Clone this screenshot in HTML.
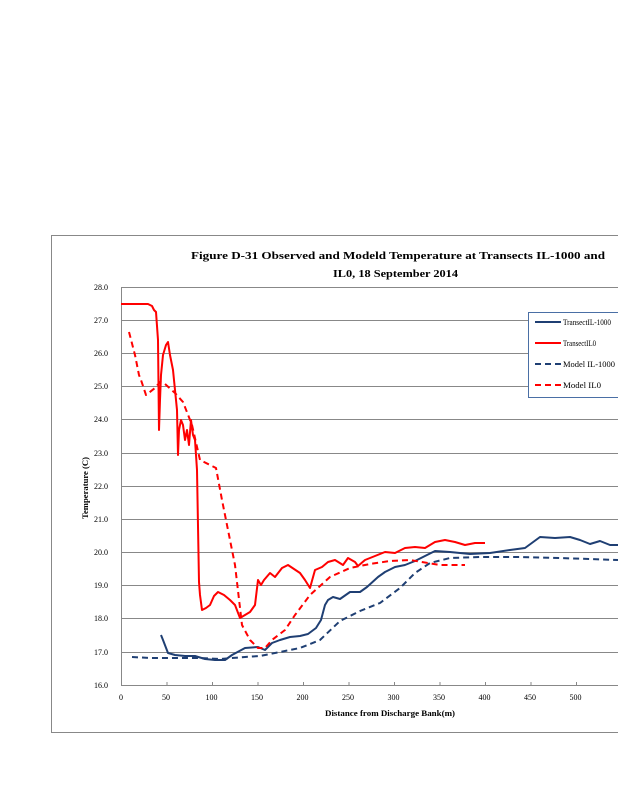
<!DOCTYPE html>
<html><head><meta charset="utf-8"><style>
body{margin:0;background:#fff;width:618px;height:800px;overflow:hidden}
svg{display:block}
text{font-family:"Liberation Serif",serif}
</style></head><body>
<svg width="618" height="800" viewBox="0 0 618 800">
<rect x="51.5" y="235.5" width="600" height="497" fill="#fff" stroke="#888" stroke-width="1"/>
<g font-size="11" font-weight="bold" fill="#000">
<text x="191" y="259" textLength="414" lengthAdjust="spacingAndGlyphs">Figure    D-31 Observed         and   Modeld       Temperature        at  Transects      IL-1000       and</text>
<text x="333" y="277" textLength="125" lengthAdjust="spacingAndGlyphs">IL0,  18   September         2014</text>
</g>
<g stroke="#888" stroke-width="1">
<line x1="121" y1="287.5" x2="618" y2="287.5"/>
<line x1="121" y1="320.5" x2="618" y2="320.5"/>
<line x1="121" y1="353.5" x2="618" y2="353.5"/>
<line x1="121" y1="386.5" x2="618" y2="386.5"/>
<line x1="121" y1="419.5" x2="618" y2="419.5"/>
<line x1="121" y1="453.5" x2="618" y2="453.5"/>
<line x1="121" y1="486.5" x2="618" y2="486.5"/>
<line x1="121" y1="519.5" x2="618" y2="519.5"/>
<line x1="121" y1="552.5" x2="618" y2="552.5"/>
<line x1="121" y1="585.5" x2="618" y2="585.5"/>
<line x1="121" y1="618.5" x2="618" y2="618.5"/>
<line x1="121" y1="652.5" x2="618" y2="652.5"/>
<line x1="121" y1="685.5" x2="618" y2="685.5"/>
<line x1="121.5" y1="287" x2="121.5" y2="686"/>
<path d="M167 682v3M212.5 682v3M258 682v3M303.5 682v3M349 682v3M394.5 682v3M440 682v3M485.5 682v3M531 682v3M576.5 682v3"/>
</g>
<g font-size="8" fill="#000" text-anchor="end">
<text x="108" y="290">28.0</text><text x="108" y="323">27.0</text><text x="108" y="356">26.0</text>
<text x="108" y="389">25.0</text><text x="108" y="422">24.0</text><text x="108" y="456">23.0</text>
<text x="108" y="489">22.0</text><text x="108" y="522">21.0</text><text x="108" y="555">20.0</text>
<text x="108" y="588">19.0</text><text x="108" y="621">18.0</text><text x="108" y="655">17.0</text>
<text x="108" y="688">16.0</text>
</g>
<g font-size="8" fill="#000" text-anchor="middle">
<text x="121" y="700">0</text><text x="166" y="700">50</text><text x="211.5" y="700">100</text>
<text x="257" y="700">150</text><text x="302.5" y="700">200</text><text x="348" y="700">250</text>
<text x="393.5" y="700">300</text><text x="439" y="700">350</text><text x="484.5" y="700">400</text>
<text x="530" y="700">450</text><text x="575.5" y="700">500</text>
</g>
<text x="325" y="716" font-size="8" font-weight="bold" textLength="130" lengthAdjust="spacingAndGlyphs">Distance     from    Discharge       Bank(m)</text>
<text transform="translate(88,488) rotate(-90)" font-size="8" font-weight="bold" text-anchor="middle" textLength="62" lengthAdjust="spacingAndGlyphs">Temperature      (C)</text>
<g fill="none" stroke-width="2" stroke-linejoin="round">
<polyline stroke="#1f3f73" stroke-dasharray="6,4" points="132,657 150,658 175,658 200,658 220,659 245,657 260,656 280,652 300,648 320,640 340,621 360,611 380,603 400,588 415,573 430,563 450,558 480,557 520,557 560,558 618,560"/>
<polyline stroke="#1f3f73" points="161,635 163,640 168,653 175,655 185,656 195,656 205,659 215,660 225,660 232,655 245,648 258,647 265,650 272,643 280,640 290,637 300,636 308,634 316,628 321,620 325,605 328,600 333,597 340,599 350,592 360,592 367,587 378,577 385,572 395,567 405,565 415,561 425,556 435,551 450,552 470,554 490,553 510,550 525,548 540,537 555,538 570,537 580,540 590,544 600,541 610,545 618,545"/>
<polyline stroke="#f00" stroke-dasharray="6,4" points="129,332 135,355 139,375 141,380 146,395 155,388 160,382 165,384 175,393 183,402 192,425 200,460 210,465 216,468 222,500 228,530 235,565 242,625 250,640 258,648 265,648 272,640 285,630 295,615 310,595 330,577 350,568 370,564 390,561 410,560 440,565 465,565"/>
<polyline stroke="#f00" points="121,304 148,304 152,306 154,310 156,312 158,340 159,430 160,400 161,375 163,355 166,345 168,342 170,355 173,370 175,390 177,410 178,455 179,430 181,420 183,425 185,440 187,430 189,445 191,420 193,435 195,440 197,470 199,582 200,595 202,610 206,608 210,605 214,596 218,592 224,595 230,600 235,605 240,618 245,615 250,612 255,605 258,580 261,585 264,580 270,573 275,577 282,568 288,565 300,573 305,580 310,588 315,570 322,567 328,562 335,560 343,565 348,558 355,562 358,566 365,560 375,556 385,552 395,553 405,548 415,547 425,548 435,542 445,540 455,542 465,545 475,543 485,543"/>
</g>
<rect x="528.5" y="312.5" width="100" height="85" fill="#fff" stroke="#4a6fa5" stroke-width="1"/>
<g stroke-width="2">
<line x1="535" y1="322" x2="561" y2="322" stroke="#1f3f73"/>
<line x1="535" y1="343" x2="561" y2="343" stroke="#f00"/>
<line x1="535" y1="364" x2="561" y2="364" stroke="#1f3f73" stroke-dasharray="6,4"/>
<line x1="535" y1="385" x2="561" y2="385" stroke="#f00" stroke-dasharray="6,4"/>
</g>
<g font-size="8" fill="#000">
<text x="563" y="325" textLength="48" lengthAdjust="spacingAndGlyphs">TransectIL-1000</text>
<text x="563" y="346" textLength="33" lengthAdjust="spacingAndGlyphs">TransectIL0</text>
<text x="563" y="367" textLength="52" lengthAdjust="spacingAndGlyphs">Model    IL-1000</text>
<text x="563" y="388" textLength="38" lengthAdjust="spacingAndGlyphs">Model    IL0</text>
</g>
</svg>
</body></html>
